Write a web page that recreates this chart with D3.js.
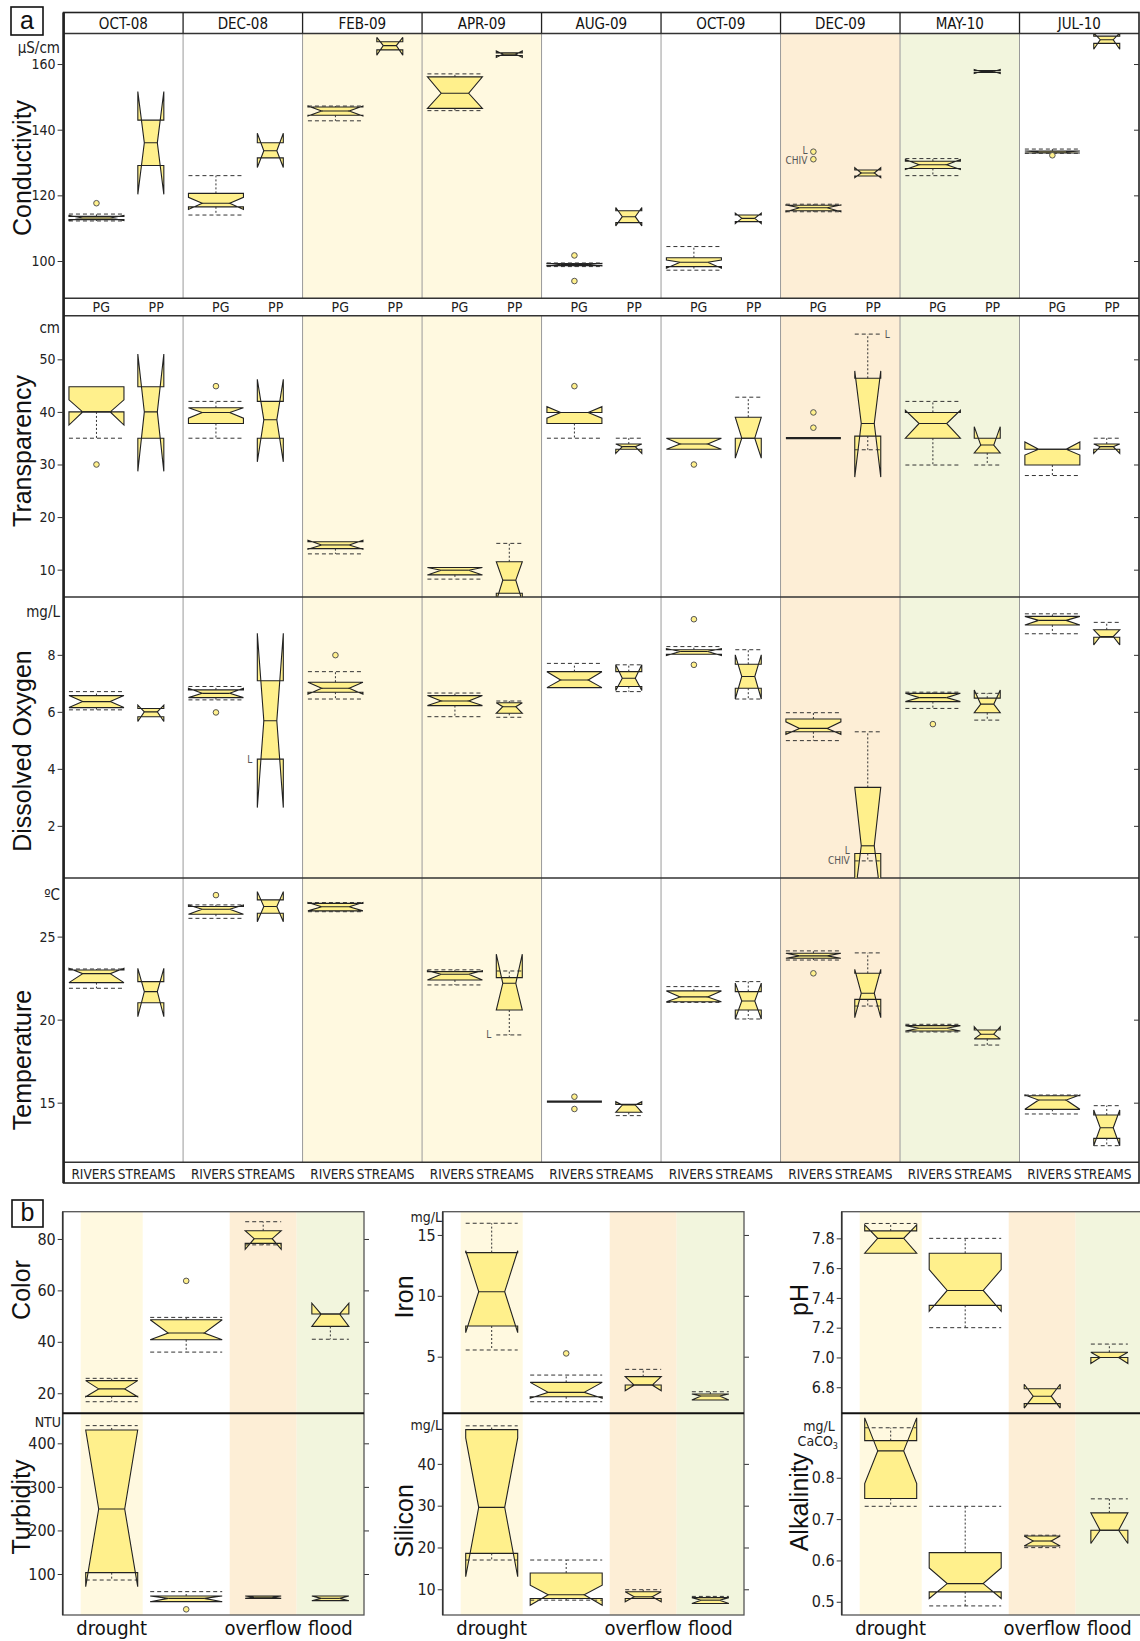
<!DOCTYPE html>
<html><head><meta charset="utf-8">
<script src="https://cdn.jsdelivr.net/npm/d3@7"></script>
<style>body{margin:0;background:#fff}svg{display:block}</style>
</head><body>
<svg id="c" width="1140" height="1641"></svg>
<script>
// ---------------- DATA ----------------
const months = ["OCT-08","DEC-08","FEB-09","APR-09","AUG-09","OCT-09","DEC-09","MAY-10","JUL-10"];
const monthPhase = ["","","drought","drought","","","overflow","flood",""];
const groupsTop = ["PG","PP"];
const groupsBottom = ["RIVERS","STREAMS"];

// box stats: [whiskerLow, q1, median, q3, whiskerHigh, notchLow, notchHigh]
const conductivityPG = [
 [112.2,112.6,113.1,113.6,114.3,112.3,113.9],
 [114.0,116.5,117.6,120.6,126.0,115.7,119.4],
 [142.7,144.4,145.7,146.9,147.2,144.2,147.2],
 [145.8,146.5,151.1,156.1,157.0,146.5,156.1],
 [98.3,98.6,98.9,99.2,99.4,98.5,99.3],
 [97.2,98.3,99.6,101.0,104.4,97.8,100.3],
 [115.0,115.3,116.2,117.0,117.3,115.0,117.1],
 [126.0,128.2,129.3,130.4,131.2,127.9,130.9],
 [132.8,132.9,133.2,133.5,134.1,132.9,133.5]];
const conductivityPP = [
 [129.1,129.1,136.0,142.9,142.9,120.3,151.6],
 [131.4,131.4,133.6,136.0,136.0,128.5,138.9],
 [164.3,164.3,165.6,166.8,166.8,162.7,168.1],
 [162.6,162.6,163.0,163.4,163.4,162.0,164.0],
 [111.7,111.7,113.5,115.3,115.3,110.7,116.3],
 [112.0,112.0,113.0,114.0,114.0,111.4,114.6],
 [125.9,125.9,126.8,127.7,127.7,125.4,128.4],
 [157.4,157.4,157.7,158.0,158.0,157.1,158.3],
 [166.3,166.3,167.4,168.5,168.5,164.5,169.5]];
const conductivityOutliers = [["OCT-08",0,117.6],["AUG-09",0,101.7],["AUG-09",0,93.9],["DEC-09",0,133.3],["DEC-09",0,131.0],["JUL-10",0,132.2]];
const conductivityTicks = [100,120,140,160];

const transparencyPG = [
 [35.0,40.0,40.0,44.8,44.8,37.5,42.3],
 [35.0,37.8,39.9,40.8,42.0,38.8,40.8],
 [13.0,14.0,14.7,15.3,15.3,13.9,15.6],
 [8.2,9.0,9.9,10.4,10.4,9.0,10.4],
 [35.0,37.8,39.9,39.9,39.9,38.8,41.0],
 [32.9,32.9,33.9,35.0,35.0,32.9,35.0],
 [35.0,35.0,35.0,35.0,35.0,35.0,35.0],
 [29.9,35.0,37.8,39.9,42.0,35.0,40.3],
 [27.9,29.9,32.9,32.9,32.9,31.8,34.3]];
const transparencyPP = [
 [35.0,35.0,40.0,44.8,44.8,28.7,51.0],
 [35.0,35.0,38.5,42.0,42.0,30.5,46.2],
 null,
 [5.5,5.5,8.0,11.5,15.0,4.0,11.5],
 [32.9,32.9,33.4,33.9,35.0,32.1,33.9],
 [35.0,35.0,35.0,39.0,42.8,31.2,39.0],
 [32.8,35.4,37.8,46.4,54.8,27.6,47.8],
 [29.9,32.2,33.7,35.0,35.0,32.2,37.2],
 [32.9,32.9,33.4,33.9,35.0,32.1,33.9]];
const transparencyOutliers = [["OCT-08",0,30.0],["DEC-08",0,44.9],["AUG-09",0,44.9],["OCT-09",0,30.0],["DEC-09",0,39.9],["DEC-09",0,37.0]];
const transparencyTicks = [10,20,30,40,50];

const oxygenPG = [
 [6.07,6.15,6.36,6.57,6.71,6.15,6.57],
 [6.42,6.50,6.65,6.77,6.89,6.50,6.83],
 [6.45,6.69,6.83,7.04,7.41,6.62,7.04],
 [5.83,6.22,6.38,6.57,6.66,6.22,6.57],
 [6.85,6.85,7.12,7.41,7.70,6.85,7.41],
 [8.02,8.02,8.12,8.18,8.29,7.98,8.22],
 [4.99,5.30,5.42,5.75,5.97,5.21,5.65],
 [6.12,6.36,6.50,6.65,6.69,6.36,6.65],
 [8.74,9.05,9.21,9.35,9.44,9.05,9.35]];
const oxygenPP = [
 [5.83,5.83,6.00,6.12,6.12,5.66,6.24],
 [4.34,4.34,5.69,7.09,7.09,2.64,8.76],
 null,
 [5.81,5.95,6.18,6.32,6.38,5.95,6.32],
 [6.71,6.89,7.18,7.41,7.65,6.75,7.65],
 [6.45,6.83,7.24,7.67,8.18,6.45,8.00],
 [0.77,1.03,1.30,3.35,5.30,-0.5,3.35],
 [5.71,5.97,6.27,6.48,6.65,5.97,6.77],
 [8.62,8.62,8.64,8.88,9.14,8.35,8.88]];
const oxygenOutliers = [["DEC-08",0,5.98],["FEB-09",0,7.99],["OCT-09",0,9.25],["OCT-09",0,7.65],["MAY-10",0,5.57]];
const oxygenTicks = [2,4,6,8];

const temperatureRivers = [
 [21.89,22.23,22.77,22.99,23.05,22.23,23.09],
 [26.10,26.35,26.65,26.81,26.91,26.35,26.91],
 [26.50,26.55,26.80,27.00,27.05,26.55,27.05],
 [22.09,22.39,22.73,22.89,23.00,22.39,22.95],
 [15.06,15.06,15.06,15.06,15.06,15.06,15.06],
 [21.04,21.08,21.37,21.73,21.99,21.08,21.73],
 [23.59,23.70,23.84,24.00,24.14,23.70,24.00],
 [19.26,19.32,19.48,19.64,19.72,19.32,19.64],
 [14.32,14.60,15.16,15.42,15.46,14.60,15.46]];
const temperatureStreams = [
 [21.02,21.02,21.69,22.29,22.29,20.18,23.09],
 [26.41,26.41,26.81,27.21,27.21,25.90,27.71],
 null,
 [19.08,20.58,22.19,22.53,22.93,20.58,23.94],
 [14.22,14.42,14.86,14.90,14.90,14.42,15.06],
 [20.04,20.58,21.12,21.69,22.29,20.04,22.20],
 [20.82,21.22,21.59,22.79,24.02,20.12,23.03],
 [18.47,18.84,19.12,19.38,19.38,18.84,19.58],
 [12.41,12.85,13.49,14.26,14.82,12.41,14.56]];
const temperatureOutliers = [["DEC-08",0,27.5],["AUG-09",0,15.36],["AUG-09",0,14.62],["DEC-09",0,22.79]];
const temperatureTicks = [15,20,25];

// annotations: [row, month, group, value, text, placement]
const annotations = [
 ["Conductivity","DEC-09",0,133.6,"L","leftOfPoint"],
 ["Conductivity","DEC-09",0,130.6,"CHIV","leftOfPoint"],
 ["Transparency","DEC-09",1,54.8,"L","rightOfBox"],
 ["Dissolved Oxygen","DEC-08",1,4.34,"L","leftOfBox"],
 ["Dissolved Oxygen","DEC-09",1,1.12,"L","leftOfBox"],
 ["Dissolved Oxygen","DEC-09",1,0.77,"CHIV","leftOfBox"],
 ["Temperature","APR-09",1,19.08,"L","leftOfBox"]];

// Panel b
const stages = ["drought","","overflow","flood"];
const colorStats = [
 [16.7,18.8,21.7,24.9,25.8,18.6,24.9],
 [36.0,40.8,43.4,48.6,49.5,40.8,48.6],
 [77.7,78.3,80.1,83.2,86.7,76.0,83.2],
 [41.0,46.0,50.8,50.8,50.8,46.0,55.0]];
const colorOutliers = [[1,63.7]];
const colorTicks = [20,40,60,80];
const turbidityStats = [
 [86.2,103.1,249.2,430.6,440.6,70.9,430.6],
 [36.5,36.5,44.1,49.5,59.5,36.5,49.5],
 [44.1,44.1,46.8,49.5,49.5,44.1,49.5],
 [38.8,38.8,44.1,49.5,49.5,38.8,49.5]];
const turbidityOutliers = [[1,18.9]];
const turbidityTicks = [100,200,300,400];
const ironStats = [
 [5.55,7.52,10.34,13.55,15.96,6.97,13.70],
 [1.30,1.71,2.07,2.89,3.49,1.58,2.89],
 [2.67,2.67,2.67,3.36,3.96,2.21,3.36],
 [1.44,1.44,1.77,1.93,2.12,1.44,1.93]];
const ironOutliers = [[1,5.27]];
const ironTicks = [5,10,15];
const siliconStats = [
 [17.0,18.6,29.6,48.2,49.1,13.0,46.2],
 [7.4,7.8,8.7,13.9,17.0,6.2,11.0],
 [7.8,7.8,8.2,9.4,9.9,7.0,9.4],
 [6.6,6.6,7.4,8.0,8.3,6.6,8.0]];
const siliconOutliers = [];
const siliconTicks = [10,20,30,40];
const phStats = [
 [7.70,7.70,7.80,7.85,7.90,7.70,7.89],
 [7.20,7.35,7.45,7.70,7.80,7.31,7.59],
 [6.69,6.69,6.74,6.79,6.79,6.66,6.82],
 [7.00,7.00,7.00,7.035,7.09,6.96,7.035]];
const phOutliers = [];
const phTicks = [6.8,7.0,7.2,7.4,7.6,7.8];
const alkalinityStats = [
 [0.731,0.75,0.865,0.89,0.921,0.786,0.945],
 [0.49,0.524,0.544,0.619,0.731,0.508,0.582],
 [0.631,0.635,0.647,0.659,0.661,0.635,0.659],
 [0.673,0.673,0.673,0.715,0.749,0.641,0.715]];
const alkalinityOutliers = [];
const alkalinityTicks = [0.5,0.6,0.7,0.8];

// ---------------- DRAWING ----------------
const svg = d3.select("#c");
const NARROW = "'Liberation Sans Narrow','Arial Narrow','DejaVu Sans Condensed',sans-serif";
const SANS = "'Liberation Sans',Arial,Helvetica,sans-serif";
const FILL = "#FFF08C", STROKE = "#222";
const phaseFill = {drought:"#FFF9E0", overflow:"#FDEED6", flood:"#F2F5DD"};

function drawBox(g, cx, w, y, s) {
  if (!s) return;
  const [wl,q1,md,q3,wh,nl,nh] = s;
  const L = cx - w/2, R = cx + w/2, i = w*0.25;
  const pts = [[L,q3],[R,q3],[R,nh],[R-i,md],[R,nl],[R,q1],[L,q1],[L,nl],[L+i,md],[L,nh]]
    .map(([px,v]) => [px, y(v)]);
  const flat = Math.abs(y(q1)-y(q3)) < 1.5 && Math.abs(y(nl)-y(nh)) < 1.5;
  g.append("polygon").attr("points", pts.map(p => p.join(",")).join(" "))
    .attr("fill", FILL).attr("stroke", STROKE).attr("stroke-width", flat ? 2.2 : 1.1)
    .attr("stroke-linejoin","miter").attr("stroke-miterlimit",3);
  if (!flat) g.append("line").attr("x1",L+i).attr("x2",R-i).attr("y1",y(md)).attr("y2",y(md))
    .attr("stroke",STROKE).attr("stroke-width",1.1);
  const wg = g.append("g").attr("stroke","#333").attr("fill","none").attr("stroke-width",1);
  if (wh > q3 + 1e-9) {
    wg.append("line").attr("x1",cx).attr("x2",cx).attr("y1",y(q3)).attr("y2",y(wh)).attr("stroke-dasharray","2,2");
    wg.append("line").attr("x1",L).attr("x2",R).attr("y1",y(wh)).attr("y2",y(wh)).attr("stroke-dasharray","4,3");
  }
  if (wl < q1 - 1e-9) {
    wg.append("line").attr("x1",cx).attr("x2",cx).attr("y1",y(q1)).attr("y2",y(wl)).attr("stroke-dasharray","2,2");
    wg.append("line").attr("x1",L).attr("x2",R).attr("y1",y(wl)).attr("y2",y(wl)).attr("stroke-dasharray","4,3");
  }
}
function drawOutlier(g, cx, yy) {
  g.append("circle").attr("cx",cx).attr("cy",yy).attr("r",2.8)
    .attr("fill",FILL).attr("stroke","#555").attr("stroke-width",1);
}
const defs = svg.append("defs");
let clipId = 0;
function clipRect(x, y0, w, h) {
  const id = "clip" + (clipId++);
  defs.append("clipPath").attr("id", id).append("rect").attr("x",x).attr("y",y0).attr("width",w).attr("height",h);
  return "url(#" + id + ")";
}
function styleAxis(ax, size) {
  ax.select(".domain").remove();
  ax.selectAll("text").attr("font-family",NARROW).attr("font-size",size).attr("fill","#222");
  ax.selectAll("line").attr("stroke","#333");
}

// ---- Panel a ----
const AX0 = 63.6, AX1 = 1139, ATOP = 12.5, AHEAD = 33.5, ABOT = 1183;
const xM = d3.scaleBand().domain(months).range([AX0, AX1]);
const bw = xM.bandwidth();
const gPos = [0.275, 0.73], gW = [55, 26];
const topLabelPos = [0.315, 0.775], bottomLabelPos = [0.25, 0.695];
const cxA = (m, gi) => xM(m) + bw * gPos[gi];

const rowsA = [
 {title:"Conductivity", unit:"μS/cm", top:AHEAD, bottom:298.3, domain:[88.64,169.3], ticks:conductivityTicks,
  series:[conductivityPG, conductivityPP], outliers:conductivityOutliers, titleY:168, unitY:53},
 {title:"Transparency", unit:"cm", top:315.7, bottom:597, domain:[4.8,58.3], ticks:transparencyTicks,
  series:[transparencyPG, transparencyPP], outliers:transparencyOutliers, titleY:451, unitY:333},
 {title:"Dissolved Oxygen", unit:"mg/L", top:597, bottom:878, domain:[0.17,10.03], ticks:oxygenTicks,
  series:[oxygenPG, oxygenPP], outliers:oxygenOutliers, titleY:751, unitY:617},
 {title:"Temperature", unit:"ºC", top:878, bottom:1162.3, domain:[11.41,28.53], ticks:temperatureTicks,
  series:[temperatureRivers, temperatureStreams], outliers:temperatureOutliers, titleY:1060, unitY:900}
];

// backgrounds
rowsA.forEach(r => {
  months.forEach((m, k) => {
    if (monthPhase[k]) svg.append("rect").attr("x", xM(m)).attr("y", r.top).attr("width", bw)
      .attr("height", r.bottom - r.top).attr("fill", phaseFill[monthPhase[k]]);
  });
});
// column separators (plot rows only; label rows have none)
months.slice(1).forEach(m => {
  [[AHEAD, 298.3], [315.7, 1162.3]].forEach(([a, b]) => {
    svg.append("line").attr("x1",xM(m)).attr("x2",xM(m)).attr("y1",a).attr("y2",b).attr("stroke","#9a9a9a").attr("stroke-width",1);
  });
  svg.append("line").attr("x1",xM(m)).attr("x2",xM(m)).attr("y1",ATOP).attr("y2",AHEAD).attr("stroke","#222").attr("stroke-width",1.3);
});
// horizontal lines
[AHEAD, 298.3, 315.7, 597, 878, 1162.3].forEach(yy => {
  svg.append("line").attr("x1",AX0).attr("x2",AX1).attr("y1",yy).attr("y2",yy).attr("stroke","#333").attr("stroke-width",1.4);
});
svg.append("rect").attr("x",AX0).attr("y",ATOP).attr("width",AX1-AX0).attr("height",ABOT-ATOP)
  .attr("fill","none").attr("stroke","#222").attr("stroke-width",1.6);
svg.append("line").attr("x1",AX0).attr("x2",AX0).attr("y1",ATOP).attr("y2",ABOT).attr("stroke","#222").attr("stroke-width",2.6);

// header labels
months.forEach(m => {
  svg.append("text").attr("x", xM(m) + bw/2).attr("y", 29).attr("text-anchor","middle")
    .attr("font-family",NARROW).attr("font-size",15).attr("fill","#111").text(m);
});
// group labels
months.forEach(m => {
  [0,1].forEach(gi => {
    svg.append("text").attr("x", xM(m) + bw*topLabelPos[gi]).attr("y", 312).attr("text-anchor","middle")
      .attr("font-family",NARROW).attr("font-size",14).attr("fill","#222").text(groupsTop[gi]);
    svg.append("text").attr("x", xM(m) + bw*bottomLabelPos[gi]).attr("y", 1178.5).attr("text-anchor","middle")
      .attr("font-family",NARROW).attr("font-size",13.5).attr("fill","#222").text(groupsBottom[gi]);
  });
});

rowsA.forEach(r => {
  const y = d3.scaleLinear().domain(r.domain).range([r.bottom, r.top]);
  r.y = y;
  const g = svg.append("g").attr("clip-path", clipRect(AX0, r.top, AX1-AX0, r.bottom-r.top));
  months.forEach((m, k) => {
    [0,1].forEach(gi => drawBox(g, cxA(m,gi), gW[gi], y, r.series[gi][k]));
  });
  r.outliers.forEach(([m, gi, v]) => drawOutlier(g, cxA(m,gi), y(v)));
  const ax = svg.append("g").attr("transform",`translate(${AX0},0)`)
    .call(d3.axisLeft(y).tickValues(r.ticks).tickSize(6).tickPadding(2).tickFormat(d3.format("d")));
  styleAxis(ax, 14);
  const axr = svg.append("g").attr("transform",`translate(${AX1},0)`)
    .call(d3.axisLeft(y).tickValues(r.ticks).tickSize(5).tickFormat(""));
  styleAxis(axr, 14);
  svg.append("text").attr("transform",`translate(31,${r.titleY}) rotate(-90)`).attr("text-anchor","middle")
    .attr("font-family",SANS).attr("font-size",25).attr("fill","#111").text(r.title);
  svg.append("text").attr("x",60).attr("y",r.unitY).attr("text-anchor","end")
    .attr("font-family",NARROW).attr("font-size",15).attr("fill","#222").text(r.unit);
});

annotations.forEach(([rowName, m, gi, v, txt, place]) => {
  const r = rowsA.find(d => d.title === rowName);
  const c = cxA(m, gi);
  let xx, anchor;
  if (place === "leftOfPoint") { xx = c - 6; anchor = "end"; }
  else if (place === "leftOfBox") { xx = c - gW[gi]/2 - 5; anchor = "end"; }
  else { xx = c + gW[gi]/2 + 4; anchor = "start"; }
  svg.append("text").attr("x",xx).attr("y",r.y(v)).attr("dy","0.35em").attr("text-anchor",anchor)
    .attr("font-family",NARROW).attr("font-size",10).attr("fill","#555").text(txt);
});

// "a" label
svg.append("rect").attr("x",11).attr("y",7).attr("width",32).attr("height",28).attr("fill","#fff").attr("stroke","#111").attr("stroke-width",1.6);
svg.append("text").attr("x",27).attr("y",29).attr("text-anchor","middle").attr("font-family",SANS).attr("font-size",25).attr("fill","#111").text("a");

// ---- Panel b ----
const BTOP = 1211.7, BMID = 1413.3, BBOT = 1615, BW = 301.3;
const bandEdges = [18, 80, 167, 234, BW];
const stageW = [52, 72, 36, 37];
const panelsB = [
 {x0:62.7, titleX:30, rows:[
   {title:"Color", unit:"", stats:colorStats, out:colorOutliers, domain:[12.2,90.6], ticks:colorTicks, fmt:"d", titleY:1290},
   {title:"Turbidity", unit:"NTU", stats:turbidityStats, out:turbidityOutliers, domain:[5.9,468.9], ticks:turbidityTicks, fmt:"d", titleY:1507}]},
 {x0:442.7, titleX:413, rows:[
   {title:"Iron", unit:"mg/L", stats:ironStats, out:ironOutliers, domain:[0.35,16.91], ticks:ironTicks, fmt:"d", titleY:1297},
   {title:"Silicon", unit:"mg/L", stats:siliconStats, out:siliconOutliers, domain:[3.85,52.1], ticks:siliconTicks, fmt:"d", titleY:1521}]},
 {x0:841.7, titleX:808, rows:[
   {title:"pH", unit:"", stats:phStats, out:phOutliers, domain:[6.625,7.979], ticks:phTicks, fmt:".1f", titleY:1300},
   {title:"Alkalinity", unit:"mg/L", stats:alkalinityStats, out:alkalinityOutliers, domain:[0.468,0.956], ticks:alkalinityTicks, fmt:".1f", titleY:1502}]}
];

panelsB.forEach((p, pi) => {
  const xs = d3.scaleLinear().domain([0,1,2,3,4]).range(bandEdges.map(e => p.x0 + e));
  const cxB = k => xs(k + 0.5);
  stages.forEach((s, k) => {
    const ph = k === 0 ? "drought" : (k === 2 ? "overflow" : (k === 3 ? "flood" : ""));
    if (ph) svg.append("rect").attr("x", xs(k)).attr("y", BTOP).attr("width", xs(k+1)-xs(k))
      .attr("height", BBOT-BTOP).attr("fill", phaseFill[ph]);
  });
  const tops = [[BTOP, BMID], [BMID, BBOT]];
  p.rows.forEach((r, ri) => {
    const [t, b] = tops[ri];
    const y = d3.scaleLinear().domain(r.domain).range([b, t]);
    const g = svg.append("g").attr("clip-path", clipRect(p.x0, t, BW, b - t));
    stages.forEach((s, k) => drawBox(g, cxB(k), stageW[k], y, r.stats[k]));
    r.out.forEach(([k, v]) => drawOutlier(g, cxB(k), y(v)));
    const ax = svg.append("g").attr("transform",`translate(${p.x0},0)`)
      .call(d3.axisLeft(y).tickValues(r.ticks).tickSize(5).tickPadding(2).tickFormat(d3.format(r.fmt)));
    styleAxis(ax, 16);
    const axr = svg.append("g").attr("transform",`translate(${p.x0 + BW},0)`)
      .call(d3.axisRight(y).tickValues(r.ticks).tickSize(5).tickFormat(""));
    styleAxis(axr, 16);
    svg.append("text").attr("transform",`translate(${p.titleX},${r.titleY}) rotate(-90)`).attr("text-anchor","middle")
      .attr("font-family",SANS).attr("font-size",25).attr("fill","#111").text(r.title);
  });
  svg.append("rect").attr("x",p.x0).attr("y",BTOP).attr("width",BW).attr("height",BBOT-BTOP)
    .attr("fill","none").attr("stroke","#555").attr("stroke-width",1.3);
  svg.append("line").attr("x1",p.x0).attr("x2",p.x0).attr("y1",BTOP).attr("y2",BBOT).attr("stroke","#333").attr("stroke-width",1.6);
  svg.append("line").attr("x1",p.x0).attr("x2",p.x0+BW).attr("y1",BMID).attr("y2",BMID).attr("stroke","#111").attr("stroke-width",2);
  stages.forEach((s, k) => {
    svg.append("text").attr("x", cxB(k)).attr("y", 1635).attr("text-anchor","middle")
      .attr("font-family",NARROW).attr("font-size",20).attr("fill","#111").text(s);
  });
});

// unit labels panel b
const unitStyle = sel => sel.attr("font-family",NARROW).attr("font-size",14).attr("fill","#222");
unitStyle(svg.append("text").attr("x",61).attr("y",1427).attr("text-anchor","end").text("NTU"));
unitStyle(svg.append("text").attr("x",442).attr("y",1222).attr("text-anchor","end").text("mg/L"));
unitStyle(svg.append("text").attr("x",442).attr("y",1430).attr("text-anchor","end").text("mg/L"));
unitStyle(svg.append("text").attr("x",819).attr("y",1431).attr("text-anchor","middle").text("mg/L"));
const caco = svg.append("text").attr("x",838).attr("y",1446).attr("text-anchor","end");
unitStyle(caco);
caco.append("tspan").text("CaCO");
caco.append("tspan").attr("font-size",9).attr("dy",3).text("3");

// "b" label
svg.append("rect").attr("x",12).attr("y",1200).attr("width",31).attr("height",27).attr("fill","#fff").attr("stroke","#111").attr("stroke-width",1.6);
svg.append("text").attr("x",27.5).attr("y",1221).attr("text-anchor","middle").attr("font-family",SANS).attr("font-size",25).attr("fill","#111").text("b");
</script>
</body></html>
